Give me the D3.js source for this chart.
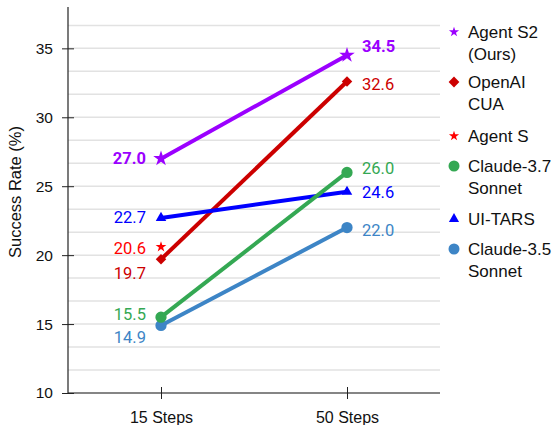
<!DOCTYPE html>
<html>
<head>
<meta charset="utf-8">
<script src="https://cdn.jsdelivr.net/npm/d3@7"></script>
<style>
  body { margin: 0; background: #fff; }
  text { font-family: "Liberation Sans", Arial, sans-serif; }
  .val { font-family: Roboto, sans-serif; font-size: 16.5px; }
</style>
</head>
<body>
<svg width="554" height="425"></svg>
<script>
// data
const steps = ['15 Steps', '50 Steps'];
const names = ['Agent S2\n(Ours)', 'OpenAI\nCUA', 'Agent S', 'Claude-3.7\nSonnet', 'UI-TARS', 'Claude-3.5\nSonnet'];
const agentS2 = [27.0, 34.5];
const openaiCUA = [19.7, 32.6];
const agentS = [20.6, null];
const claude37 = [15.5, 26.0];
const uiTars = [22.7, 24.6];
const claude35 = [14.9, 22.0];
const yTicks = [10, 15, 20, 25, 30, 35];

// styling per series (order matches names)
const styles = [
  { color: '#9b00ff', shape: 'star', size: 75, legendSize: 32, bold: true, dy: [0, -9] },
  { color: '#cc0000', shape: 'diamond', size: 55, legendSize: 58, bold: false, dy: [14, 3] },
  { color: '#ff0000', shape: 'star', size: 36, legendSize: 32, bold: false, dy: [1, 0] },
  { color: '#34a853', shape: 'circle', size: 100, legendSize: 95, bold: false, dy: [-3, -4] },
  { color: '#0000ff', shape: 'triangle', size: 48, legendSize: 45, bold: false, dy: [-1, 0] },
  { color: '#3d85c6', shape: 'circle', size: 100, legendSize: 95, bold: false, dy: [12, 3] }
];
const values = [agentS2, openaiCUA, agentS, claude37, uiTars, claude35];

(function (d3) {
const svg = d3.select('svg');
const mLeft = 68, mRight = 440, mTop = 7, mBottom = 393;

const x = d3.scalePoint().domain(steps).range([mLeft, mRight]).padding(0.5);
const y = d3.scaleLinear().domain([10, 38]).range([mBottom, mTop]);

// gridlines every 5/3 unit
const grid = d3.range(0, 17).map(i => 10 + i * 5 / 3).filter(v => v <= 38);
svg.append('g').selectAll('line').data(grid).enter().append('line')
  .attr('x1', mLeft).attr('x2', mRight)
  .attr('y1', d => y(d)).attr('y2', d => y(d))
  .attr('stroke', '#e2e2e2').attr('stroke-width', 1.5);

// axes
const yAxis = d3.axisLeft(y).tickValues(yTicks).tickSizeInner(6).tickSizeOuter(0).tickPadding(9);
const yG = svg.append('g').attr('transform', `translate(${mLeft},0)`).call(yAxis);
yG.select('.domain').remove();
yG.selectAll('.tick line').attr('x2', -6).attr('x1', 6).attr('stroke', '#222');
yG.selectAll('.tick text').attr('font-size', 15.5).attr('fill', '#111')
  .attr('font-family', '"Liberation Sans", Arial, sans-serif');
svg.append('line').attr('x1', mLeft).attr('x2', mLeft).attr('y1', mTop).attr('y2', mBottom)
  .attr('stroke', '#222').attr('stroke-width', 1.2);

const xAxis = d3.axisBottom(x).tickSizeInner(6).tickSizeOuter(0).tickPadding(13);
const xG = svg.append('g').attr('transform', `translate(0,${mBottom})`).call(xAxis);
xG.select('.domain').remove();
xG.selectAll('.tick line').attr('y1', -6).attr('y2', 6).attr('stroke', '#222');
xG.selectAll('.tick text').attr('font-size', 16).attr('fill', '#111')
  .attr('font-family', '"Liberation Sans", Arial, sans-serif');
svg.append('line').attr('x1', mLeft).attr('x2', mRight).attr('y1', mBottom).attr('y2', mBottom)
  .attr('stroke', '#222').attr('stroke-width', 1.2);

svg.append('text')
  .attr('transform', 'translate(21,192) rotate(-90)')
  .attr('text-anchor', 'middle')
  .attr('font-size', 16.5).attr('fill', '#111')
  .text('Success Rate (%)');

const symbolFor = (shape, size) => {
  if (shape === 'star') return d3.symbol().type(d3.symbolStar).size(size)();
  if (shape === 'circle') return d3.symbol().type(d3.symbolCircle).size(size)();
  if (shape === 'triangle') return d3.symbol().type(d3.symbolTriangle).size(size)();
  return d3.symbol().type(d3.symbolSquare).size(size)();
};

const line = d3.line().x(d => x(d.s)).y(d => y(d.v));

// draw series in back-to-front order
const drawOrder = [5, 1, 4, 3, 0, 2];
drawOrder.forEach(i => {
  const st = styles[i];
  const pts = steps.map((s, j) => ({ s, v: values[i][j] })).filter(d => d.v != null);
  const g = svg.append('g');
  if (pts.length > 1) {
    g.append('path').datum(pts).attr('d', line)
      .attr('fill', 'none').attr('stroke', st.color).attr('stroke-width', 4);
  }
  g.selectAll('path.m').data(pts).enter().append('path').attr('class', 'm')
    .attr('d', symbolFor(st.shape, st.size))
    .attr('transform', d => `translate(${x(d.s)},${y(d.v)})` + (st.shape === 'diamond' ? ' rotate(45)' : ''))
    .attr('fill', st.color);
  g.selectAll('text').data(pts).enter().append('text')
    .attr('class', 'val')
    .attr('x', d => d.s === steps[0] ? x(d.s) - 15 : x(d.s) + 15)
    .attr('y', d => y(d.v) + st.dy[steps.indexOf(d.s)])
    .attr('dy', '0.35em')
    .attr('text-anchor', d => d.s === steps[0] ? 'end' : 'start')
    .attr('font-weight', st.bold ? 'bold' : 'normal')
    .attr('fill', st.color)
    .text(d => d.v.toFixed(1));
});

// legend
const legendRows = [32, 82, 136, 166, 219, 249];
const legend = svg.append('g');
names.forEach((n, i) => {
  const st = styles[i];
  const ly = legendRows[i];
  legend.append('path')
    .attr('d', symbolFor(st.shape, st.legendSize))
    .attr('transform', `translate(454,${ly})` + (st.shape === 'diamond' ? ' rotate(45)' : ''))
    .attr('fill', st.color);
  n.split('\n').forEach((part, k) => {
    legend.append('text')
      .attr('x', 468).attr('y', ly + k * 22.5).attr('dy', '0.35em')
      .attr('font-size', 17).attr('fill', '#111')
      .text(part);
  });
});
}(d3));
</script>
</body>
</html>
